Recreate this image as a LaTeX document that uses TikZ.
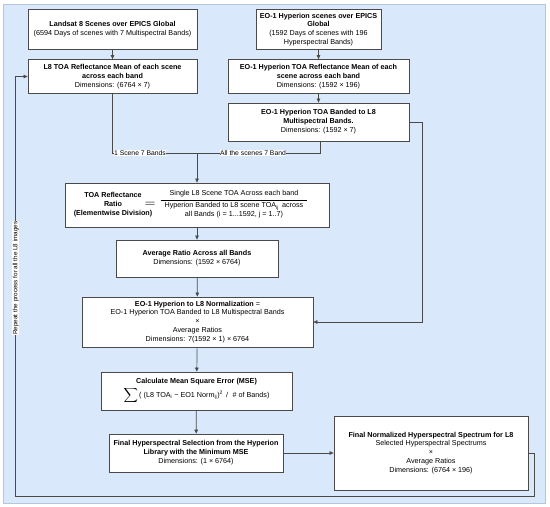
\documentclass[tikz,border=0pt]{standalone}
\usepackage{fontspec}
\setmainfont{Liberation Sans}
\usetikzlibrary{arrows.meta}
\definecolor{panelfill}{HTML}{DAE8FC}
\definecolor{paneldraw}{HTML}{B4C6DE}
\definecolor{boxdraw}{HTML}{4A4A4A}
\definecolor{linecol}{HTML}{4A4A4A}
\newcommand{\bxfont}{\fontsize{7.2}{8.9}\selectfont}
\begin{document}
\begin{tikzpicture}[x=1pt,y=-1pt,
  every node/.style={font=\bxfont},
  box/.style={draw=boxdraw,fill=white,line width=0.8pt,align=center,inner sep=1pt},
  conn/.style={draw=linecol,line width=0.7pt},
  arr/.style={conn,-{Triangle[length=4pt,width=3.6pt]}},
  elabel/.style={fill=white,inner sep=0.6pt,font=\fontsize{6.8}{7.5}\selectfont}
]
\useasboundingbox (0,0) rectangle (550,507);
\draw[fill=panelfill,draw=paneldraw,line width=0.8pt] (3,4) rectangle (545,503);

% boxes
\node[box,minimum width=169pt,minimum height=40pt] (b1) at (112.5,29.5)
 {\textbf{Landsat 8 Scenes over EPICS Global}\\(6594 Days of scenes with 7 Multispectral Bands)};
\node[box,minimum width=169pt,minimum height=34pt] (b2) at (112.5,76.5)
 {\textbf{L8 TOA Reflectance Mean of each scene}\\\textbf{across each band}\\Dimensions: (6764 × 7)};
\node[box,minimum width=125pt,minimum height=40pt] (b3) at (318.5,29.5)
 {\textbf{EO-1 Hyperion scenes over EPICS}\\\textbf{Global}\\(1592 Days of scenes with 196\\Hyperspectral Bands)};
\node[box,minimum width=181pt,minimum height=34pt] (b4) at (318.5,76.5)
 {\textbf{EO-1 Hyperion TOA Reflectance Mean of each}\\\textbf{scene across each band}\\Dimensions: (1592 × 196)};
\node[box,minimum width=181pt,minimum height=38pt] (b5) at (318.5,122)
 {\textbf{EO-1 Hyperion TOA Banded to L8}\\\textbf{Multispectral Bands.}\\Dimensions: (1592 × 7)};

\node[box,minimum width=264pt,minimum height=44pt] (b6) at (197,205) {};
\node[align=center,inner sep=0pt] (b6l) at (113,205)
 {\textbf{TOA Reflectance}\\\textbf{Ratio}\\\textbf{(Elementwise Division)}};
\node[inner sep=0pt] (b6eq) at (150,205) {\Large$=$};
\node[inner sep=0pt] (b6f) at (234,205)
 {$\displaystyle\frac{\mbox{\bxfont Single L8 Scene TOA Across each band}\rule[-3pt]{0pt}{8pt}}
 {\mbox{\bxfont\begin{tabular}{@{\hspace{4pt}}c@{\hspace{4pt}}}Hyperion Banded to L8 scene TOA\textsubscript{ij}\, across\\all Bands (i = 1...1592, j = 1..7)\end{tabular}}}$};

\node[box,minimum width=162pt,minimum height=37pt] (b7) at (197,258.5)
 {\textbf{Average Ratio Across all Bands}\\Dimensions: (1592 × 6764)};
\node[box,minimum width=231pt,minimum height=50pt] (b8) at (197.5,322)
 {\textbf{EO-1 Hyperion to L8 Normalization} =\\EO-1 Hyperion TOA Banded to L8 Multispectral Bands\\×\\Average Ratios\\Dimensions: 7(1592 × 1) × 6764};
\node[box,minimum width=191pt,minimum height=38pt] (b9) at (196.5,391)
 {\textbf{Calculate Mean Square Error (MSE)}\\[1.5pt]$\displaystyle\sum$\,( (L8 TOA\textsubscript{i} − EO1 Norm\textsubscript{ij})\textsuperscript{2} \,/\, \,\# of Bands)};
\node[box,minimum width=174pt,minimum height=38pt] (b10) at (196,453)
 {\textbf{Final Hyperspectral Selection from the Hyperion}\\\textbf{Library with the Minimum MSE}\\Dimensions: (1 × 6764)};
\node[box,minimum width=194pt,minimum height=74pt] (b11) at (431,453)
 {\textbf{Final Normalized Hyperspectral Spectrum for L8}\\Selected Hyperspectral Spectrums\\×\\Average Ratios\\Dimensions: (6764 × 196)};

% coordinates
\coordinate (j1) at (112.5,153);
\coordinate (jm) at (197,153);
\coordinate (j2) at (320,153);
\coordinate (r1) at (422,122);
\coordinate (r2) at (422,322);
\coordinate (l1) at (534,453);
\coordinate (l2) at (534,496.5);
\coordinate (l3) at (15.7,496.5);
\coordinate (l4) at (15.7,76.5);

% connectors
\draw[arr] (b1) -- (b2);
\draw[arr] (b3) -- (b4);
\draw[arr] (b4) -- (b5);
\draw[conn] (b2.south) -- (j1) -- (jm);
\draw[conn] (b5.south -| j2) -- (j2) -- (jm);
\draw[arr] (jm) -- (b6.north);
\node[elabel,anchor=west] (lab1) at (113.3,153) {1 Scene 7 Bands};
\node[elabel] (lab2) at (253,153) {All the scenes 7 Band};
\draw[arr] (b6) -- (b7);
\draw[arr] (b7) -- (b8);
\draw[arr] (b8) -- (b9);
\draw[arr] (b9) -- (b10);
\draw[arr] (b5.east) -- (r1) -- (r2) -- (b8.east);
\draw[arr] (b10) -- (b11);
\draw[arr] (b11.east) -- (l1) -- (l2) -- (l3) -- (l4) -- (b2.west);
\node[elabel,rotate=90,font=\fontsize{6.3}{7}\selectfont] (lab3) at (15.7,278) {Repeat the process for all the L8 images};
\end{tikzpicture}
\end{document}
